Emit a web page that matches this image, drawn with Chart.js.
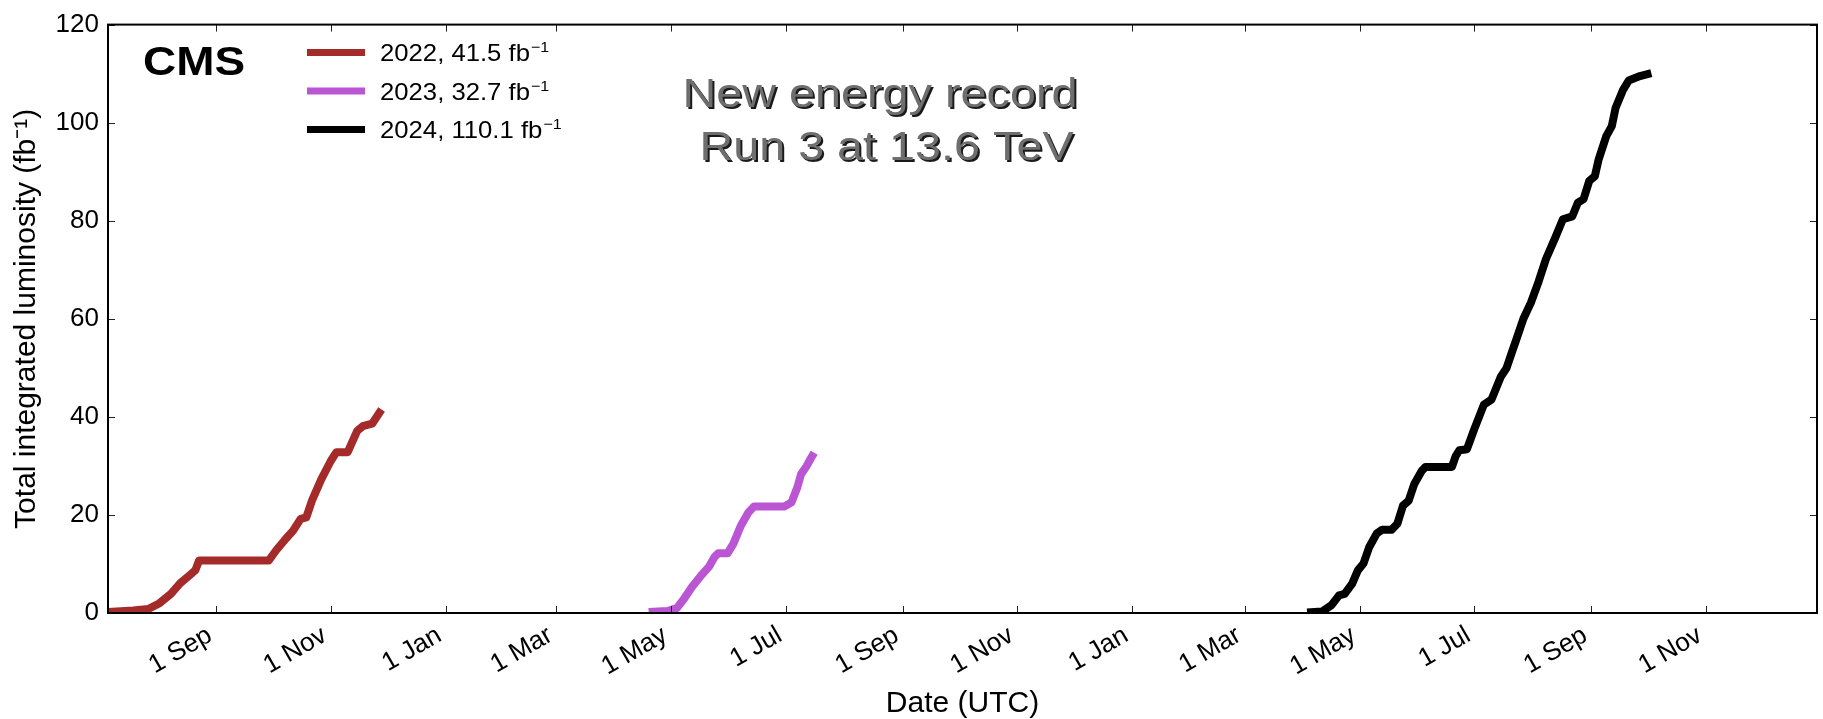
<!DOCTYPE html>
<html>
<head>
<meta charset="utf-8">
<script src="https://cdn.jsdelivr.net/npm/chart.js@4/dist/chart.umd.min.js"></script>
<style>
  html, body { margin: 0; padding: 0; background: #ffffff; }
  #wrap { width: 1823px; height: 719px; }
</style>
</head>
<body>
<div id="wrap"><canvas id="c" width="1823" height="719"></canvas></div>
<script>
// ---------------- data ----------------
const seriesYears = ['2022', '2023', '2024'];
const seriesTotals = ['41.5', '32.7', '110.1'];
const seriesColors = ['#a52a2a', '#ba55d3', '#000000'];

const lumi2022Dates = ['2022-07-05','2022-07-19','2022-07-27','2022-08-02','2022-08-08','2022-08-13','2022-08-18','2022-08-21','2022-08-23','2022-09-29','2022-10-03','2022-10-08','2022-10-12','2022-10-16','2022-10-19','2022-10-22','2022-10-27','2022-11-01','2022-11-04','2022-11-10','2022-11-15','2022-11-18','2022-11-23','2022-11-28'];
const lumi2022Values = [0.2, 0.5, 0.8, 2.0, 3.9, 6.1, 7.7, 8.7, 10.7, 10.7, 12.8, 15.1, 16.8, 19.2, 19.5, 22.9, 27.3, 31.0, 32.8, 32.8, 37.1, 38.1, 38.6, 41.5];

const lumi2023Dates = ['2023-04-19','2023-04-29','2023-05-04','2023-05-08','2023-05-12','2023-05-17','2023-05-21','2023-05-24','2023-05-26','2023-05-31','2023-06-03','2023-06-07','2023-06-11','2023-06-14','2023-06-30','2023-07-04','2023-07-07','2023-07-09','2023-07-12','2023-07-14','2023-07-16'];
const lumi2023Values = [0.2, 0.4, 1.0, 3.0, 5.3, 7.7, 9.4, 11.4, 12.2, 12.2, 14.1, 17.8, 20.5, 21.7, 21.7, 22.6, 25.6, 28.3, 30.0, 31.4, 32.7];

const lumi2024Dates = ['2024-04-03','2024-04-11','2024-04-16','2024-04-20','2024-04-23','2024-04-27','2024-04-30','2024-05-03','2024-05-06','2024-05-10','2024-05-13','2024-05-18','2024-05-21','2024-05-24','2024-05-27','2024-05-30','2024-06-03','2024-06-05','2024-06-19','2024-06-21','2024-06-23','2024-06-27','2024-07-01','2024-07-06','2024-07-10','2024-07-15','2024-07-18','2024-07-21','2024-07-23','2024-07-27','2024-07-31','2024-08-04','2024-08-08','2024-08-13','2024-08-17','2024-08-22','2024-08-25','2024-08-28','2024-08-31','2024-09-03','2024-09-05','2024-09-09','2024-09-12','2024-09-14','2024-09-18','2024-09-21','2024-09-23','2024-09-27','2024-10-03'];
const lumi2024Values = [0.1, 0.3, 1.6, 3.6, 3.9, 6.0, 8.7, 10.1, 13.4, 16.2, 17.0, 17.0, 18.2, 21.9, 22.9, 26.3, 29.0, 29.8, 29.8, 32.0, 33.2, 33.4, 37.6, 42.5, 43.5, 48.2, 49.9, 53.3, 55.5, 60.0, 63.3, 67.5, 72.2, 76.6, 80.3, 80.9, 83.7, 84.4, 88.1, 89.1, 92.5, 97.2, 99.3, 103.0, 106.7, 108.6, 108.9, 109.5, 110.1];

const tickDates = ['2022-09-01','2022-11-01','2023-01-01','2023-03-01','2023-05-01','2023-07-01','2023-09-01','2023-11-01','2024-01-01','2024-03-01','2024-05-01','2024-07-01','2024-09-01','2024-11-01'];
const tickLabels = ['1 Sep','1 Nov','1 Jan','1 Mar','1 May','1 Jul','1 Sep','1 Nov','1 Jan','1 Mar','1 May','1 Jul','1 Sep','1 Nov'];
const xRangeDates = ['2022-07-05T14:00:00Z', '2024-12-30T02:00:00Z'];
const yTickValues = [0, 20, 40, 60, 80, 100, 120];

const xTitle = 'Date (UTC)';
const yTitle = 'Total integrated luminosity (fb\u207B\u00B9)';
const experimentLabel = 'CMS';
const noteLines = ['New energy record', ' Run 3 at 13.6 TeV'];

// ---------------- helpers ----------------
const dayNum = s => Date.parse(s) / 864e5;
const toPoints = (dates, vals) => dates.map((d, i) => ({ x: dayNum(d), y: vals[i] }));
const seriesData = [
  toPoints(lumi2022Dates, lumi2022Values),
  toPoints(lumi2023Dates, lumi2023Values),
  toPoints(lumi2024Dates, lumi2024Values)
];
const FONT = '"Liberation Sans", Arial, Helvetica, sans-serif';

const framePlugin = {
  id: 'frame',
  afterDatasetsDraw(chart) {
    const { ctx, chartArea: a, scales: { x, y } } = chart;
    ctx.save();
    ctx.strokeStyle = '#222';
    ctx.lineWidth = 1;
    const seg = (x1, y1, x2, y2) => { ctx.beginPath(); ctx.moveTo(x1, y1); ctx.lineTo(x2, y2); ctx.stroke(); };
    x.ticks.forEach(t => {
      const px = Math.round(x.getPixelForValue(t.value)) + 0.5;
      seg(px, a.bottom, px, a.bottom - 7);
      seg(px, a.top, px, a.top + 7);
    });
    y.ticks.forEach(t => {
      const py = Math.round(y.getPixelForValue(t.value)) + 0.5;
      seg(a.left, py, a.left + 7, py);
      seg(a.right, py, a.right - 7, py);
    });
    ctx.strokeStyle = '#000';
    ctx.lineWidth = 2;
    ctx.strokeRect(a.left, a.top, a.right - a.left, a.bottom - a.top);
    ctx.restore();
  }
};

const textPlugin = {
  id: 'texts',
  afterDraw(chart) {
    const { ctx, chartArea: a } = chart;
    ctx.save();
    ctx.textBaseline = 'alphabetic';
    // CMS label
    ctx.save();
    ctx.translate(a.left + 35, a.top + 50);
    ctx.scale(1.12, 1);
    ctx.font = 'bold 41px ' + FONT;
    ctx.fillStyle = '#000';
    ctx.textAlign = 'left';
    ctx.fillText(experimentLabel, 0, 0);
    ctx.restore();

    // legend
    chart.data.datasets.forEach((ds, i) => {
      const cy = a.top + 28 + i * 38.5;
      ctx.strokeStyle = ds.borderColor;
      ctx.lineWidth = 7;
      ctx.lineCap = 'butt';
      ctx.beginPath();
      ctx.moveTo(a.left + 199, cy);
      ctx.lineTo(a.left + 257, cy);
      ctx.stroke();
      ctx.save();
      ctx.translate(a.left + 272, cy + 8.8);
      ctx.scale(1.07, 1);
      ctx.fillStyle = '#000';
      ctx.textAlign = 'left';
      ctx.font = '24px ' + FONT;
      const main = ds.label.replace('\u207B\u00B9', '');
      ctx.fillText(main, 0, 0);
      const w = ctx.measureText(main).width;
      ctx.font = '15px ' + FONT;
      ctx.fillText('\u22121', w + 1, -9);
      ctx.restore();
    });

    // annotation with shadow
    ctx.font = '41px ' + FONT;
    ctx.textAlign = 'center';
    noteLines.forEach((line, i) => {
      ctx.save();
      ctx.translate(a.left + 772, a.top + 82 + i * 53);
      ctx.scale(1.14, 1);
      ctx.fillStyle = '#1a1a1a';
      ctx.fillText(line, 2 / 1.14, 2);
      ctx.fillStyle = '#6e6e6e';
      ctx.fillText(line, 0, 0);
      ctx.restore();
    });
    ctx.restore();
  }
};

new Chart(document.getElementById('c'), {
  type: 'line',
  data: {
    datasets: seriesData.map((pts, i) => ({
      label: seriesYears[i] + ', ' + seriesTotals[i] + ' fb\u207B\u00B9',
      data: pts,
      borderColor: seriesColors[i],
      backgroundColor: seriesColors[i],
      borderWidth: 8,
      pointRadius: 0,
      tension: 0,
      fill: false,
      borderJoinStyle: 'round',
      borderCapStyle: 'butt'
    }))
  },
  options: {
    responsive: false,
    animation: false,
    devicePixelRatio: 1,
    layout: { padding: { left: 0, right: 6, top: 21, bottom: 0 } },
    plugins: { legend: { display: false }, tooltip: { enabled: false }, title: { display: false } },
    scales: {
      x: {
        type: 'linear',
        min: dayNum(xRangeDates[0]),
        max: dayNum(xRangeDates[1]),
        grid: { display: false, drawTicks: false },
        border: { display: false },
        afterBuildTicks: s => { s.ticks = tickDates.map(d => ({ value: dayNum(d) })); },
        afterFit: s => { s.height = 106; },
        ticks: {
          autoSkip: false,
          minRotation: 30,
          maxRotation: 30,
          padding: 7,
          labelOffset: -6,
          color: '#000',
          font: { family: FONT, size: 26 },
          callback: (v, i) => tickLabels[i]
        },
        title: { display: true, text: xTitle, color: '#000', font: { family: FONT, size: 30, lineHeight: 1 }, padding: { top: 0, bottom: 0 } }
      },
      y: {
        type: 'linear',
        min: yTickValues[0],
        max: yTickValues[yTickValues.length - 1],
        grid: { display: false, drawTicks: false },
        border: { display: false },
        afterBuildTicks: s => { s.ticks = yTickValues.map(v => ({ value: v })); },
        afterFit: s => { s.width = 108; },
        ticks: {
          padding: 9,
          color: '#000',
          font: { family: FONT, size: 26 },
          callback: v => String(v)
        },
        title: { display: true, text: yTitle, color: '#000', font: { family: FONT, size: 30, lineHeight: 1 }, padding: { top: 12, bottom: 12 } }
      }
    }
  },
  plugins: [framePlugin, textPlugin]
});
</script>
</body>
</html>
